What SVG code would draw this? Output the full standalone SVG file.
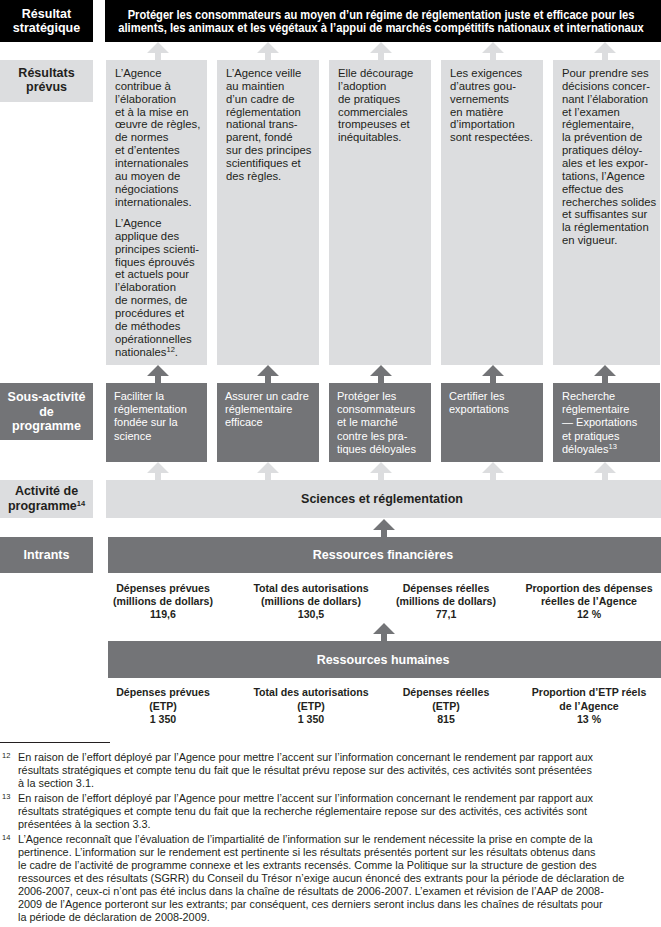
<svg xmlns="http://www.w3.org/2000/svg" xmlns:xlink="http://www.w3.org/1999/xlink" width="661" height="927" viewBox="0 0 661 927">
<style>
.blk{fill:#000}
.lt{fill:#dcdddf}
.dk{fill:#737477}
.hw{font-family:"Liberation Sans",Arial,sans-serif;font-weight:bold;font-size:12.5px;fill:#fff;text-anchor:middle}
.hd{font-family:"Liberation Sans",Arial,sans-serif;font-weight:bold;font-size:12.5px;fill:#231f20;text-anchor:middle}
.body{font-family:"Liberation Sans",Arial,sans-serif;font-size:11.3px;fill:#231f20}
.sub{font-family:"Liberation Sans",Arial,sans-serif;font-size:11px;fill:#fff}
.val{font-family:"Liberation Sans",Arial,sans-serif;font-weight:bold;font-size:10.6px;fill:#231f20;text-anchor:middle}
.fn{font-family:"Liberation Sans",Arial,sans-serif;font-size:10.85px;fill:#231f20}
.fnn{font-family:"Liberation Sans",Arial,sans-serif;font-size:7.5px;fill:#231f20}
.sup{font-size:7.5px}
.al{fill:#dcdddf}
.ad{fill:#737477}
</style>
<defs>
<path id="arr" d="M0,0 L11,11 L3,11 L3,18 L-3,18 L-3,11 L-11,11 Z"/>
</defs>

<g id="connectors">
<use xlink:href="#arr" class="al" x="158" y="42"/>
<use xlink:href="#arr" class="al" x="268" y="42"/>
<use xlink:href="#arr" class="al" x="381" y="42"/>
<use xlink:href="#arr" class="al" x="493" y="42"/>
<use xlink:href="#arr" class="al" x="605" y="42"/>
<use xlink:href="#arr" class="ad" x="158" y="365"/>
<use xlink:href="#arr" class="ad" x="268" y="365"/>
<use xlink:href="#arr" class="ad" x="381" y="365"/>
<use xlink:href="#arr" class="ad" x="493" y="365"/>
<use xlink:href="#arr" class="ad" x="605" y="365"/>
<use xlink:href="#arr" class="al" x="158" y="462"/>
<use xlink:href="#arr" class="al" x="268" y="462"/>
<use xlink:href="#arr" class="al" x="381" y="462"/>
<use xlink:href="#arr" class="al" x="493" y="462"/>
<use xlink:href="#arr" class="al" x="605" y="462"/>
<use xlink:href="#arr" class="ad" x="384" y="519"/>
<use xlink:href="#arr" class="ad" x="384" y="623"/>
</g>

<g id="label-resultat-strategique">
<rect class="blk" x="0" y="0" width="93" height="42"/>
<text class="hw" x="46.5" y="18">Résultat</text>
<text class="hw" x="46.5" y="31.5">stratégique</text>
</g>
<g id="resultat-strategique">
<rect class="blk" x="105" y="0" width="556" height="42"/>
<text class="hw" transform="translate(381 0) scale(0.82 1)" x="0" y="19" textLength="618" lengthAdjust="spacingAndGlyphs">Protéger les consommateurs au moyen d’un régime de réglementation juste et efficace pour les</text>
<text class="hw" transform="translate(381 0) scale(0.82 1)" x="0" y="32" textLength="641" lengthAdjust="spacingAndGlyphs">aliments, les animaux et les végétaux à l’appui de marchés compétitifs nationaux et internationaux</text>
</g>

<g id="label-resultats-prevus">
<rect class="lt" x="0" y="60" width="93" height="42"/>
<text class="hd" x="46.5" y="77">Résultats</text>
<text class="hd" x="46.5" y="90.5">prévus</text>
</g>

<g id="resultat-1">
<rect class="lt" x="106" y="60" width="101" height="305"/>
<text class="body" y="77"><tspan x="115">L’Agence</tspan><tspan x="115" dy="12.85">contribue à</tspan><tspan x="115" dy="12.85">l’élaboration</tspan><tspan x="115" dy="12.85">et à la mise en</tspan><tspan x="115" dy="12.85">œuvre de règles,</tspan><tspan x="115" dy="12.85">de normes</tspan><tspan x="115" dy="12.85">et d’ententes</tspan><tspan x="115" dy="12.85">internationales</tspan><tspan x="115" dy="12.85">au moyen de</tspan><tspan x="115" dy="12.85">négociations</tspan><tspan x="115" dy="12.85">internationales.</tspan></text>
<text class="body" y="227"><tspan x="115">L’Agence</tspan><tspan x="115" dy="12.85">applique des</tspan><tspan x="115" dy="12.85">principes scienti-</tspan><tspan x="115" dy="12.85">fiques éprouvés</tspan><tspan x="115" dy="12.85">et actuels pour</tspan><tspan x="115" dy="12.85">l’élaboration</tspan><tspan x="115" dy="12.85">de normes, de</tspan><tspan x="115" dy="12.85">procédures et</tspan><tspan x="115" dy="12.85">de méthodes</tspan><tspan x="115" dy="12.85">opérationnelles</tspan><tspan x="115" dy="12.85">nationales</tspan><tspan class="sup" dy="-4">12</tspan><tspan dy="4">.</tspan></text>
</g>

<g id="resultat-2">
<rect class="lt" x="217" y="60" width="102" height="305"/>
<text class="body" y="77"><tspan x="226">L’Agence veille</tspan><tspan x="226" dy="12.85">au maintien</tspan><tspan x="226" dy="12.85">d’un cadre de</tspan><tspan x="226" dy="12.85">réglementation</tspan><tspan x="226" dy="12.85">national trans-</tspan><tspan x="226" dy="12.85">parent, fondé</tspan><tspan x="226" dy="12.85">sur des principes</tspan><tspan x="226" dy="12.85">scientifiques et</tspan><tspan x="226" dy="12.85">des règles.</tspan></text>
</g>

<g id="resultat-3">
<rect class="lt" x="329" y="60" width="102" height="305"/>
<text class="body" y="77"><tspan x="338">Elle décourage</tspan><tspan x="338" dy="12.85">l’adoption</tspan><tspan x="338" dy="12.85">de pratiques</tspan><tspan x="338" dy="12.85">commerciales</tspan><tspan x="338" dy="12.85">trompeuses et</tspan><tspan x="338" dy="12.85">inéquitables.</tspan></text>
</g>

<g id="resultat-4">
<rect class="lt" x="441" y="60" width="102" height="305"/>
<text class="body" y="77"><tspan x="450">Les exigences</tspan><tspan x="450" dy="12.85">d’autres gou-</tspan><tspan x="450" dy="12.85">vernements</tspan><tspan x="450" dy="12.85">en matière</tspan><tspan x="450" dy="12.85">d’importation</tspan><tspan x="450" dy="12.85">sont respectées.</tspan></text>
</g>

<g id="resultat-5">
<rect class="lt" x="553" y="60" width="107" height="305"/>
<text class="body" y="77"><tspan x="562">Pour prendre ses</tspan><tspan x="562" dy="12.85">décisions concer-</tspan><tspan x="562" dy="12.85">nant l’élaboration</tspan><tspan x="562" dy="12.85">et l’examen</tspan><tspan x="562" dy="12.85">réglementaire,</tspan><tspan x="562" dy="12.85">la prévention de</tspan><tspan x="562" dy="12.85">pratiques déloy-</tspan><tspan x="562" dy="12.85">ales et les expor-</tspan><tspan x="562" dy="12.85">tations, l’Agence</tspan><tspan x="562" dy="12.85">effectue des</tspan><tspan x="562" dy="12.85">recherches solides</tspan><tspan x="562" dy="12.85">et suffisantes sur</tspan><tspan x="562" dy="12.85">la réglementation</tspan><tspan x="562" dy="12.85">en vigueur.</tspan></text>
</g>

<g id="label-sous-activite">
<rect class="dk" x="0" y="383" width="93" height="57"/>
<text class="hw" x="46.5" y="401">Sous-activité</text>
<text class="hw" x="46.5" y="415.5">de</text>
<text class="hw" x="46.5" y="430">programme</text>
</g>

<g id="sous-activite-1">
<rect class="dk" x="106" y="383" width="101" height="79"/>
<text class="sub" y="400"><tspan x="114">Faciliter la</tspan><tspan x="114" dy="13.2">réglementation</tspan><tspan x="114" dy="13.2">fondée sur la</tspan><tspan x="114" dy="13.2">science</tspan></text>
</g>
<g id="sous-activite-2">
<rect class="dk" x="217" y="383" width="102" height="79"/>
<text class="sub" y="400"><tspan x="225">Assurer un cadre</tspan><tspan x="225" dy="13.2">réglementaire</tspan><tspan x="225" dy="13.2">efficace</tspan></text>
</g>
<g id="sous-activite-3">
<rect class="dk" x="329" y="383" width="102" height="79"/>
<text class="sub" y="400"><tspan x="337">Protéger les</tspan><tspan x="337" dy="13.2">consommateurs</tspan><tspan x="337" dy="13.2">et le marché</tspan><tspan x="337" dy="13.2">contre les pra-</tspan><tspan x="337" dy="13.2">tiques déloyales</tspan></text>
</g>
<g id="sous-activite-4">
<rect class="dk" x="441" y="383" width="102" height="79"/>
<text class="sub" y="400"><tspan x="449">Certifier les</tspan><tspan x="449" dy="13.2">exportations</tspan></text>
</g>
<g id="sous-activite-5">
<rect class="dk" x="553" y="383" width="107" height="79"/>
<text class="sub" y="400"><tspan x="562">Recherche</tspan><tspan x="562" dy="13.2">réglementaire</tspan><tspan x="562" dy="13.2">— Exportations</tspan><tspan x="562" dy="13.2">et pratiques</tspan><tspan x="562" dy="13.2">déloyales</tspan><tspan class="sup" dy="-4">13</tspan></text>
</g>

<g id="label-activite">
<rect class="lt" x="0" y="480" width="93" height="38"/>
<text class="hd" x="46.5" y="495">Activité de</text>
<text class="hd" x="46.5" y="509.5">programme<tspan class="sup" dy="-4">14</tspan></text>
</g>
<g id="activite">
<rect class="lt" x="106" y="480" width="555" height="38"/>
<text class="hd" x="382" y="503" font-size="13">Sciences et réglementation</text>
</g>

<g id="label-intrants">
<rect class="dk" x="0" y="537" width="93" height="36"/>
<text class="hw" x="46.5" y="559">Intrants</text>
</g>
<g id="ressources-financieres">
<rect class="dk" x="108" y="537" width="553" height="36"/>
<text class="hw" x="383" y="559">Ressources financières</text>
<text class="val" y="592"><tspan x="163">Dépenses prévues</tspan><tspan x="163" dy="13">(millions de dollars)</tspan><tspan x="163" dy="13">119,6</tspan></text>
<text class="val" y="592"><tspan x="311">Total des autorisations</tspan><tspan x="311" dy="13">(millions de dollars)</tspan><tspan x="311" dy="13">130,5</tspan></text>
<text class="val" y="592"><tspan x="446">Dépenses réelles</tspan><tspan x="446" dy="13">(millions de dollars)</tspan><tspan x="446" dy="13">77,1</tspan></text>
<text class="val" y="592"><tspan x="589">Proportion des dépenses</tspan><tspan x="589" dy="13">réelles de l’Agence</tspan><tspan x="589" dy="13">12 %</tspan></text>
</g>

<g id="ressources-humaines">
<rect class="dk" x="108" y="641" width="553" height="37"/>
<text class="hw" x="383" y="664">Ressources humaines</text>
<text class="val" y="696"><tspan x="163">Dépenses prévues</tspan><tspan x="163" dy="13.5">(ETP)</tspan><tspan x="163" dy="13.5">1 350</tspan></text>
<text class="val" y="696"><tspan x="311">Total des autorisations</tspan><tspan x="311" dy="13.5">(ETP)</tspan><tspan x="311" dy="13.5">1 350</tspan></text>
<text class="val" y="696"><tspan x="446">Dépenses réelles</tspan><tspan x="446" dy="13.5">(ETP)</tspan><tspan x="446" dy="13.5">815</tspan></text>
<text class="val" y="696"><tspan x="589">Proportion d’ETP réels</tspan><tspan x="589" dy="13.5">de l’Agence</tspan><tspan x="589" dy="13.5">13 %</tspan></text>
</g>

<g id="footnotes">
<line x1="0" y1="742.5" x2="110" y2="742.5" stroke="#231f20" stroke-width="1"/>
<text class="fnn" x="2" y="758">12</text>
<text class="fn" y="761"><tspan x="18">En raison de l’effort déployé par l’Agence pour mettre l’accent sur l’information concernant le rendement par rapport aux</tspan><tspan x="18" dy="13">résultats stratégiques et compte tenu du fait que le résultat prévu repose sur des activités, ces activités sont présentées</tspan><tspan x="18" dy="13">à la section 3.1.</tspan></text>
<text class="fnn" x="2" y="799">13</text>
<text class="fn" y="802"><tspan x="18">En raison de l’effort déployé par l’Agence pour mettre l’accent sur l’information concernant le rendement par rapport aux</tspan><tspan x="18" dy="13">résultats stratégiques et compte tenu du fait que la recherche réglementaire repose sur des activités, ces activités sont</tspan><tspan x="18" dy="13">présentées à la section 3.3.</tspan></text>
<text class="fnn" x="2" y="840">14</text>
<text class="fn" y="843"><tspan x="18">L’Agence reconnaît que l’évaluation de l’impartialité de l’information sur le rendement nécessite la prise en compte de la</tspan><tspan x="18" dy="13">pertinence. L’information sur le rendement est pertinente si les résultats présentés portent sur les résultats obtenus dans</tspan><tspan x="18" dy="13">le cadre de l’activité de programme connexe et les extrants recensés. Comme la Politique sur la structure de gestion des</tspan><tspan x="18" dy="13">ressources et des résultats (SGRR) du Conseil du Trésor n’exige aucun énoncé des extrants pour la période de déclaration de</tspan><tspan x="18" dy="13">2006-2007, ceux-ci n’ont pas été inclus dans la chaîne de résultats de 2006-2007. L’examen et révision de l’AAP de 2008-</tspan><tspan x="18" dy="13">2009 de l’Agence porteront sur les extrants; par conséquent, ces derniers seront inclus dans les chaînes de résultats pour</tspan><tspan x="18" dy="13">la période de déclaration de 2008-2009.</tspan></text>
</g>
</svg>
